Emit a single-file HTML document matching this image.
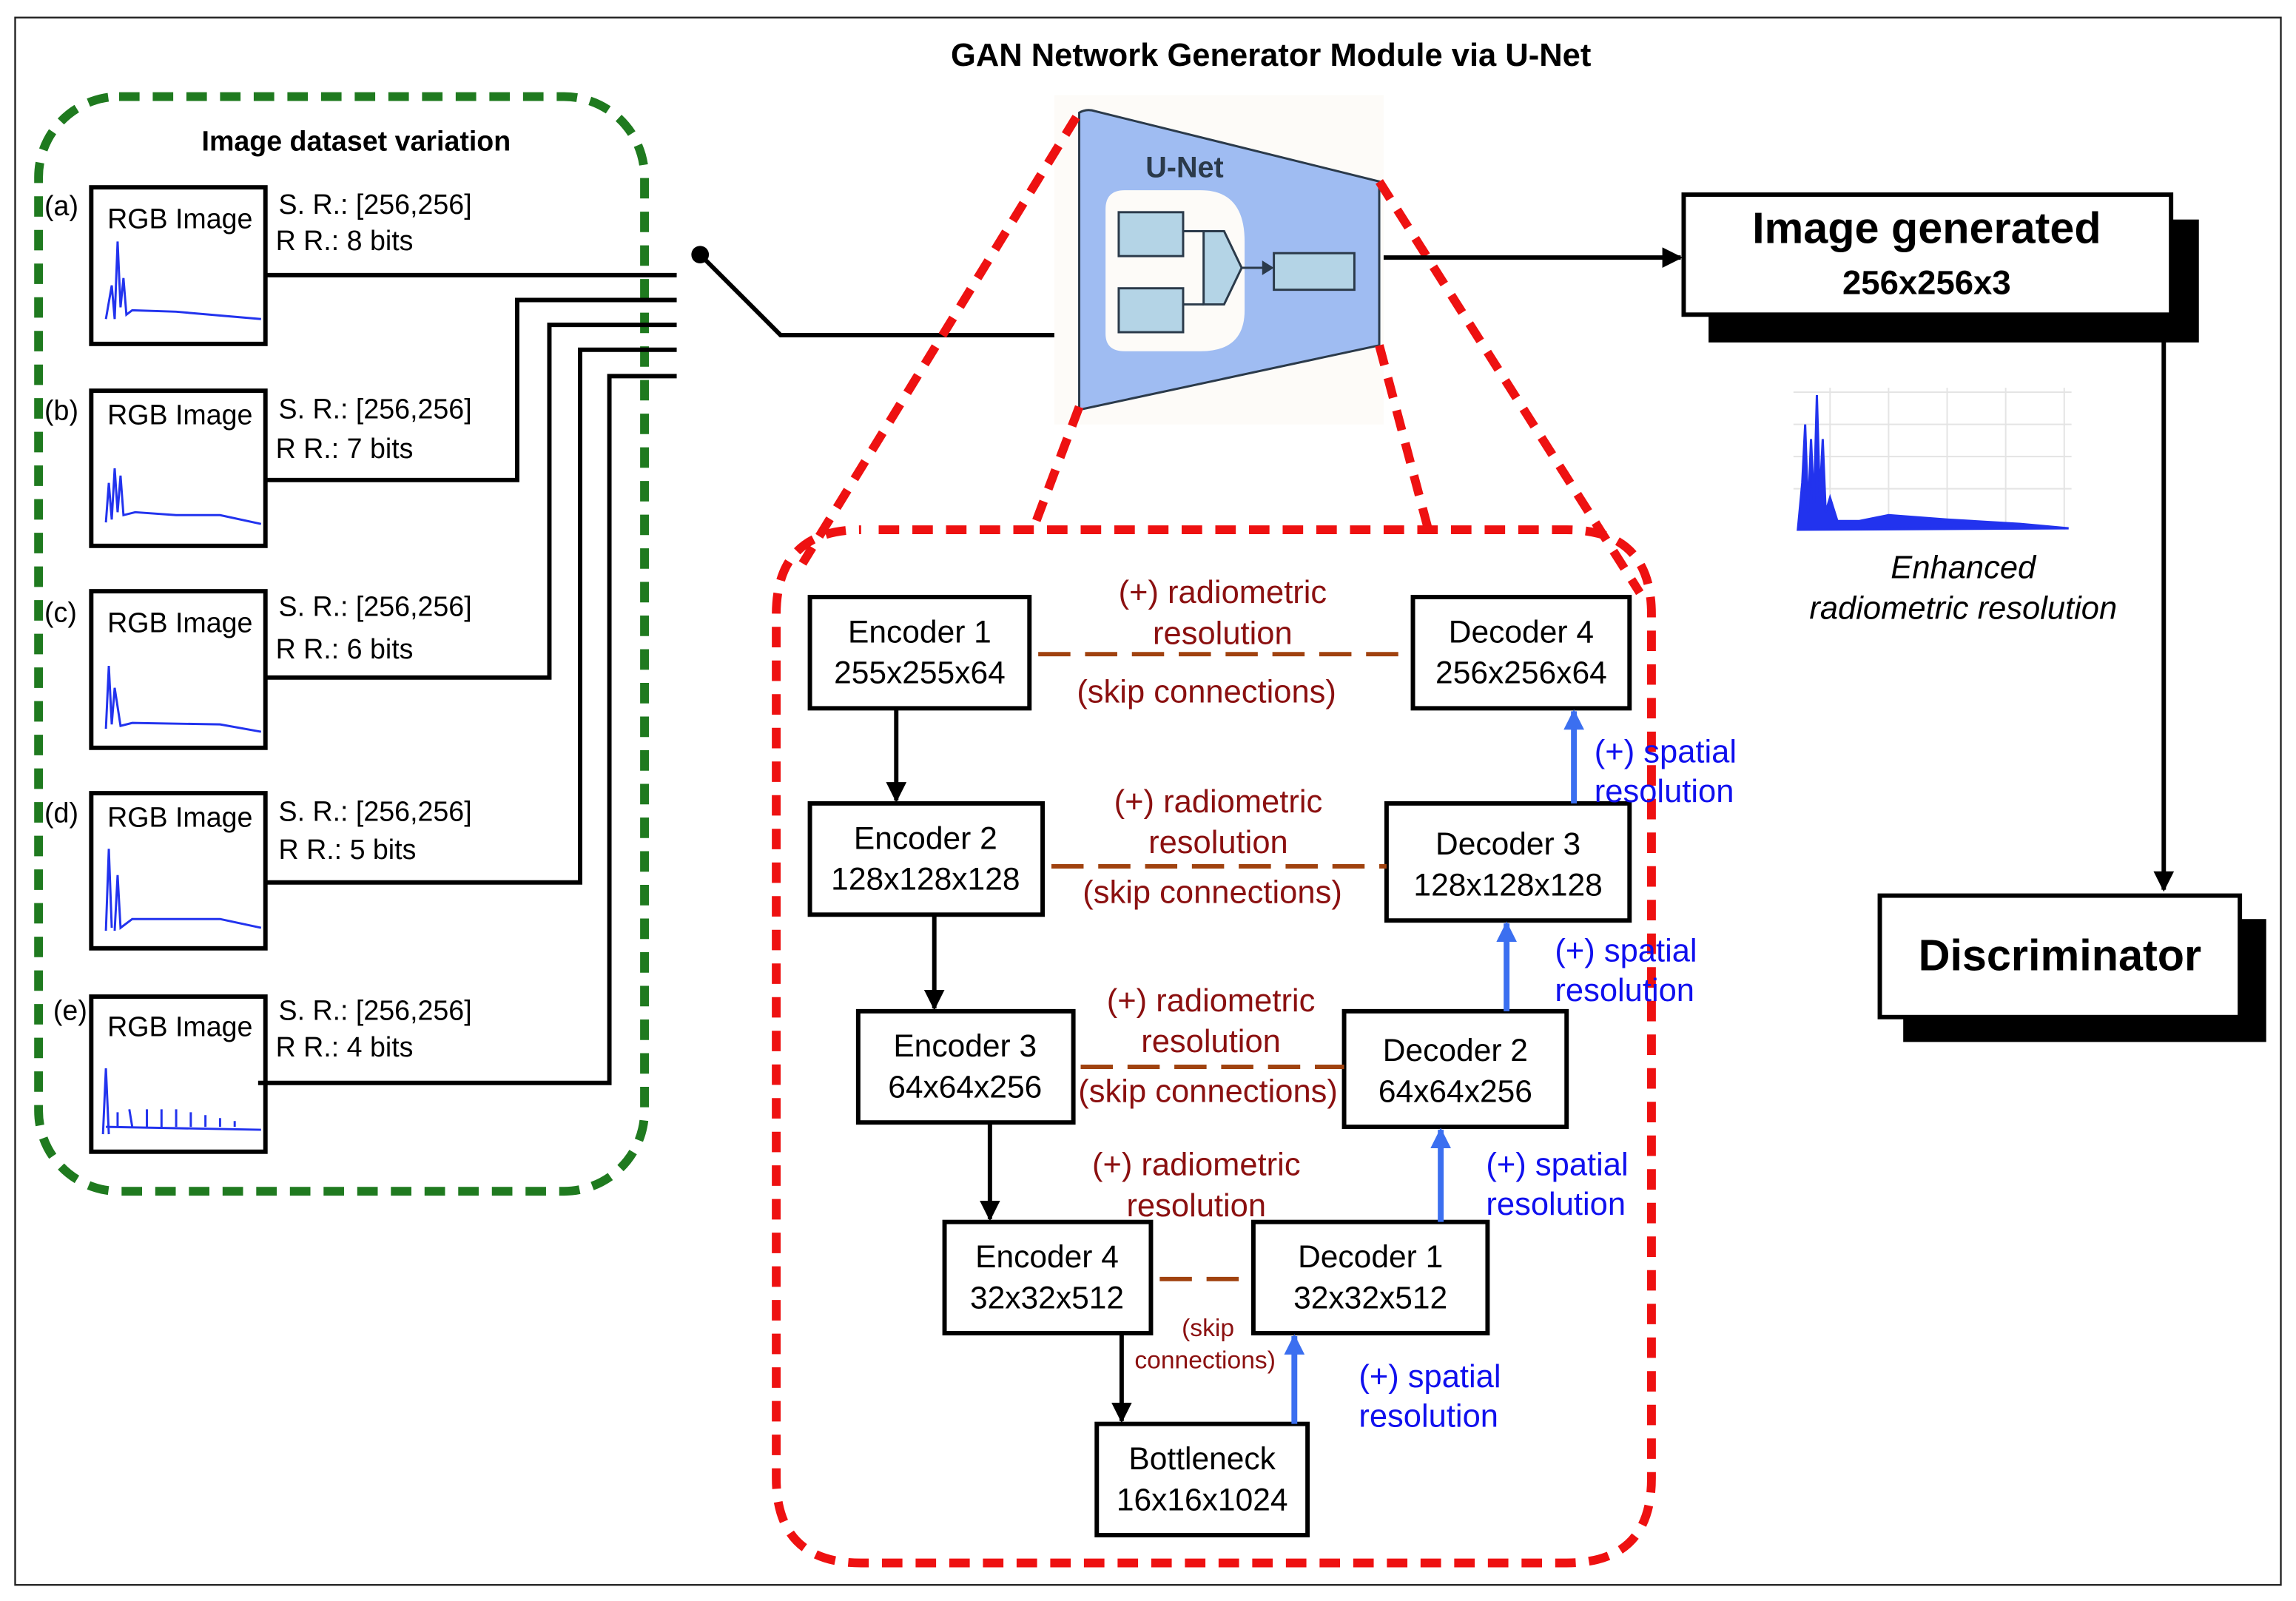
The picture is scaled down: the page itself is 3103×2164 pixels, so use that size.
<!DOCTYPE html>
<html><head><meta charset="utf-8"><style>
html,body{margin:0;padding:0;background:#fff}
svg{display:block}
text{font-family:"Liberation Sans",sans-serif}
</style></head><body>
<svg width="3103" height="2164" viewBox="0 0 1568 1094" xmlns="http://www.w3.org/2000/svg">
<defs>
<marker id="abk" viewBox="0 0 10 10" refX="9" refY="5" markerWidth="14" markerHeight="14" orient="auto" markerUnits="userSpaceOnUse"><path d="M0,0L10,5L0,10z" fill="#000"/></marker>
<marker id="abl" viewBox="0 0 10 10" refX="9" refY="5" markerWidth="14" markerHeight="14" orient="auto" markerUnits="userSpaceOnUse"><path d="M0,0L10,5L0,10z" fill="#3b6ff0"/></marker>
</defs>
<rect x="0" y="0" width="1568" height="1094" fill="#fff"/>
<rect x="10" y="12" width="1548" height="1071" fill="none" stroke="#222" stroke-width="1.2"/>
<text x="868" y="45" font-size="22" font-weight="bold" text-anchor="middle">GAN Network Generator Module via U-Net</text>

<rect x="26" y="66" width="414" height="748" rx="55" fill="none" stroke="#1f7a1f" stroke-width="6" stroke-dasharray="14,9"/>
<text x="243" y="103" font-size="19" font-weight="bold" text-anchor="middle">Image dataset variation</text>

<g font-size="19">
<g fill="#fff" stroke="#000" stroke-width="3">
<rect x="62" y="128" width="119" height="107"/>
<rect x="62" y="267" width="119" height="106"/>
<rect x="62" y="404" width="119" height="107"/>
<rect x="62" y="542" width="119" height="106"/>
<rect x="62" y="681" width="119" height="106"/>
</g>
<text x="73" y="156">RGB Image</text><text x="73" y="290">RGB Image</text><text x="73" y="432">RGB Image</text><text x="73" y="565">RGB Image</text><text x="73" y="708">RGB Image</text>
<text x="30" y="147">(a)</text><text x="30" y="287">(b)</text><text x="30" y="425">(c)</text><text x="30" y="562">(d)</text><text x="36" y="697">(e)</text>
<text x="190" y="146">S. R.: [256,256]</text><text x="188" y="171">R R.: 8 bits</text>
<text x="190" y="286">S. R.: [256,256]</text><text x="188" y="313">R R.: 7 bits</text>
<text x="190" y="421">S. R.: [256,256]</text><text x="188" y="450">R R.: 6 bits</text>
<text x="190" y="561">S. R.: [256,256]</text><text x="190" y="587">R R.: 5 bits</text>
<text x="190" y="697">S. R.: [256,256]</text><text x="188" y="722">R R.: 4 bits</text>
</g>
<g stroke="#2233ee" fill="none" stroke-width="1.5">
<path d="M72,218 L76,195 L78,218 L80,165 L82,210 L84,190 L86,215 L90,212 L120,213 L178,218"/>
<path d="M72,357 L74,330 L76,355 L78,320 L80,350 L82,325 L84,352 L92,350 L120,352 L150,352 L178,358"/>
<path d="M72,498 L74,455 L76,495 L78,470 L82,496 L90,494 L150,495 L178,500"/>
<path d="M72,636 L74,580 L76,634 M78,636 L80,598 L82,634 L90,628 L150,628 L178,634"/>
<path d="M70,775 L72,730 L74,775 M80,760 L80,770 M88,758 L90,770 M100,758 L100,770 M110,758 L110,770 M120,758 L120,770 M130,760 L130,770 M140,762 L140,770 M150,764 L150,770 M160,766 L160,770 M72,770 L178,772"/>
</g>

<g stroke="#000" stroke-width="3" fill="none">
<path d="M181,188 H462"/>
<path d="M181,328 H353 V205 H462"/>
<path d="M181,463 H375 V222 H462"/>
<path d="M181,603 H396 V239 H462"/>
<path d="M176,740 H416 V257 H462"/>
<path d="M478,174 L533,229 H735"/>
</g>
<circle cx="478" cy="174" r="6" fill="#000"/>

<rect x="720" y="65" width="225" height="225" fill="#fdfbf8"/>
<path d="M737,77 Q742,74 748,76 L942,124 L942,236 L737,280 Z" fill="#9fbcf2" stroke="#2b3a4a" stroke-width="1.5"/>
<text x="809" y="121" font-size="20" font-weight="bold" fill="#2b3a4a" text-anchor="middle">U-Net</text>
<path d="M755,143 Q755,130 768,130 L820,130 Q850,130 850,165 L850,212 Q850,240 820,240 L768,240 Q755,240 755,228 Z" fill="#fdfbf8"/>
<g fill="#b4d4e6" stroke="#2b3a4a" stroke-width="1.5">
<rect x="764" y="145" width="44" height="30"/><rect x="764" y="197" width="44" height="30"/>
<path d="M822,158 L836,158 L848,183 L836,208 L822,208 Z"/>
<rect x="870" y="173" width="55" height="25"/>
</g>
<path d="M808,158H822M808,208H822M848,183H866" stroke="#2b3a4a" stroke-width="1.5" fill="none"/>
<path d="M862,178 L870,183 L862,188Z" fill="#2b3a4a"/>

<g stroke="#ee1111" stroke-width="6" fill="none" stroke-dasharray="14,9">
<path d="M735,80 L548,385"/>
<path d="M737,278 L705,363"/>
<path d="M942,124 L1120,405"/>
<path d="M942,236 L975,360"/>
<path d="M600,362 H1070 Q1128,362 1128,420 V1010 Q1128,1068 1070,1068 H588 Q530,1068 530,1010 V420 Q530,362 588,362"/>
</g>

<line x1="945" y1="176" x2="1148" y2="176" stroke="#000" stroke-width="3" marker-end="url(#abk)"/>
<rect x="1167" y="150" width="335" height="84" fill="#000"/>
<rect x="1150" y="133" width="333" height="82" fill="#fff" stroke="#000" stroke-width="3"/>
<text x="1316" y="166" font-size="30" font-weight="bold" text-anchor="middle">Image generated</text>
<text x="1316" y="201" font-size="23" font-weight="bold" text-anchor="middle">256x256x3</text>
<line x1="1478" y1="215" x2="1478" y2="608" stroke="#000" stroke-width="3" marker-end="url(#abk)"/>
<rect x="1300" y="628" width="248" height="84" fill="#000"/>
<rect x="1284" y="612" width="246" height="83" fill="#fff" stroke="#000" stroke-width="3"/>
<text x="1407" y="663" font-size="30" font-weight="bold" text-anchor="middle">Discriminator</text>

<g stroke="#e4e4e4" stroke-width="1">
<path d="M1225,268H1415M1225,290H1415M1225,312H1415M1225,334H1415M1250,265V362M1290,265V362M1330,265V362M1370,265V362M1410,265V362"/>
</g>
<path d="M1228,362 L1231,330 L1233,290 L1235,350 L1237,300 L1239,345 L1241,270 L1243,340 L1245,300 L1247,350 L1250,340 L1255,356 L1270,356 L1290,352 L1330,355 L1380,358 L1413,361 L1228,362Z" fill="#2233ee" stroke="#2233ee" stroke-width="1.5"/>
<text x="1341" y="395" font-size="22" font-style="italic" text-anchor="middle">Enhanced</text>
<text x="1341" y="423" font-size="22" font-style="italic" text-anchor="middle">radiometric resolution</text>

<g fill="#fff" stroke="#000" stroke-width="3">
<rect x="553" y="408" width="150" height="76"/><rect x="965" y="408" width="148" height="76"/>
<rect x="553" y="549" width="159" height="76"/><rect x="947" y="549" width="166" height="80"/>
<rect x="586" y="691" width="147" height="76"/><rect x="918" y="691" width="152" height="79"/>
<rect x="645" y="835" width="141" height="76"/><rect x="856" y="835" width="160" height="76"/>
<rect x="749" y="973" width="144" height="76"/>
</g>
<g font-size="21.5" text-anchor="middle">
<text x="628" y="439">Encoder 1</text><text x="628" y="467">255x255x64</text>
<text x="1039" y="439">Decoder 4</text><text x="1039" y="467">256x256x64</text>
<text x="632" y="580">Encoder 2</text><text x="632" y="608">128x128x128</text>
<text x="1030" y="584">Decoder 3</text><text x="1030" y="612">128x128x128</text>
<text x="659" y="722">Encoder 3</text><text x="659" y="750">64x64x256</text>
<text x="994" y="725">Decoder 2</text><text x="994" y="753">64x64x256</text>
<text x="715" y="866">Encoder 4</text><text x="715" y="894">32x32x512</text>
<text x="936" y="866">Decoder 1</text><text x="936" y="894">32x32x512</text>
<text x="821" y="1004">Bottleneck</text><text x="821" y="1032">16x16x1024</text>
</g>
<g stroke="#a0420f" stroke-width="3" stroke-dasharray="22,10" fill="none">
<path d="M709,447H965"/><path d="M718,592H947"/><path d="M738,729H918"/><path d="M792,874H856"/>
</g>
<g font-size="22" fill="#8b1010" text-anchor="middle">
<text x="835" y="412">(+) radiometric</text><text x="835" y="440">resolution</text><text x="824" y="480">(skip connections)</text>
<text x="832" y="555">(+) radiometric</text><text x="832" y="583">resolution</text><text x="828" y="617">(skip connections)</text>
<text x="827" y="691">(+) radiometric</text><text x="827" y="719">resolution</text><text x="825" y="753">(skip connections)</text>
<text x="817" y="803">(+) radiometric</text><text x="817" y="831">resolution</text>
<text x="825" y="913" font-size="17">(skip</text><text x="823" y="935" font-size="17">connections)</text>
</g>
<g stroke="#000" stroke-width="3">
<line x1="612" y1="484" x2="612" y2="547" marker-end="url(#abk)"/>
<line x1="638" y1="625" x2="638" y2="689" marker-end="url(#abk)"/>
<line x1="676" y1="767" x2="676" y2="833" marker-end="url(#abk)"/>
<line x1="766" y1="911" x2="766" y2="971" marker-end="url(#abk)"/>
</g>
<g stroke="#3b6ff0" stroke-width="4">
<line x1="884" y1="973" x2="884" y2="913" marker-end="url(#abl)"/>
<line x1="984" y1="835" x2="984" y2="772" marker-end="url(#abl)"/>
<line x1="1029" y1="691" x2="1029" y2="631" marker-end="url(#abl)"/>
<line x1="1075" y1="549" x2="1075" y2="486" marker-end="url(#abl)"/>
</g>
<g font-size="22" fill="#1010ee">
<text x="928" y="948">(+) spatial</text><text x="928" y="975">resolution</text>
<text x="1015" y="803">(+) spatial</text><text x="1015" y="830">resolution</text>
<text x="1062" y="657">(+) spatial</text><text x="1062" y="684">resolution</text>
<text x="1089" y="521">(+) spatial</text><text x="1089" y="548">resolution</text>
</g>
</svg>
</body></html>
